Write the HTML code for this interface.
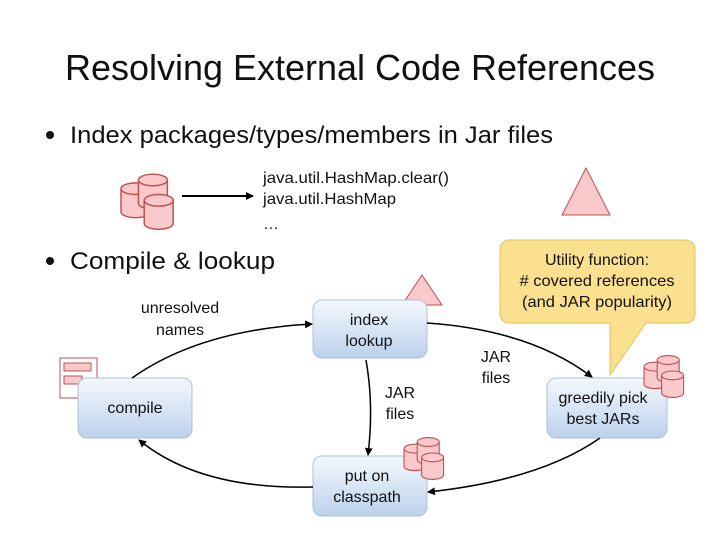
<!DOCTYPE html>
<html><head><meta charset="utf-8"><style>body{margin:0;background:#fff}svg{display:block}text{font-family:"Liberation Sans",sans-serif;fill:#111}</style></head><body>
<svg width="720" height="540" viewBox="0 0 720 540" xmlns="http://www.w3.org/2000/svg">
<defs>
<marker id="a" markerWidth="8" markerHeight="8" refX="7" refY="4" orient="auto" markerUnits="userSpaceOnUse"><path d="M0,0 L8,4 L0,8 Z" fill="#000"/></marker>
<linearGradient id="g" x1="0" y1="0" x2="0" y2="1"><stop offset="0" stop-color="#f4f8fd"/><stop offset="1" stop-color="#bcd1ec"/></linearGradient>
<g id="db">
<path d="M0,6 v16 a10,4 0 0 0 20,0 v-16" fill="#f9c9cc" stroke="#c0504d"/><ellipse cx="10" cy="6" rx="10" ry="4" fill="#f9c9cc" stroke="#c0504d"/>
<path d="M12,0 v16 a10,4 0 0 0 20,0 v-16" fill="#f9c9cc" stroke="#c0504d"/><ellipse cx="22" cy="0" rx="10" ry="4" fill="#f9c9cc" stroke="#c0504d"/>
<path d="M16,14 v16 a10,4 0 0 0 20,0 v-16" fill="#f9c9cc" stroke="#c0504d"/><ellipse cx="26" cy="14" rx="10" ry="4" fill="#f9c9cc" stroke="#c0504d"/>
</g>
</defs>
<text x="360" y="80" font-size="36" text-anchor="middle" textLength="590" lengthAdjust="spacingAndGlyphs">Resolving External Code References</text>
<circle cx="50" cy="135" r="4" fill="#111"/>
<text x="70" y="143" font-size="24" textLength="483" lengthAdjust="spacingAndGlyphs">Index packages/types/members in Jar files</text>
<use href="#db" transform="translate(121,180) scale(1.45)"/>
<line x1="182" y1="196" x2="253" y2="196" stroke="#000" stroke-width="2" marker-end="url(#a)"/>
<text x="263" y="183" font-size="16" textLength="186" lengthAdjust="spacingAndGlyphs">java.util.HashMap.clear()</text>
<text x="263" y="204" font-size="16" textLength="133" lengthAdjust="spacingAndGlyphs">java.util.HashMap</text>
<text x="263" y="229" font-size="16">…</text>
<polygon points="586,168 610,215 562,215" fill="#f9c9cc" stroke="#c0504d"/>
<circle cx="50" cy="261" r="4" fill="#111"/>
<text x="70" y="269" font-size="24" textLength="205" lengthAdjust="spacingAndGlyphs">Compile &amp; lookup</text>
<path d="M508,240 h178 a9,9 0 0 1 9,9 v65 a9,9 0 0 1 -9,9 h-40 l-36,52 l0,-52 h-101 a9,9 0 0 1 -9,-9 v-65 a9,9 0 0 1 9,-9 z" fill="#fbe08f" stroke="#e3c25a"/>
<text x="597" y="265" font-size="16" text-anchor="middle">Utility function:</text>
<text x="597" y="286" font-size="16" text-anchor="middle" textLength="155" lengthAdjust="spacingAndGlyphs"># covered references</text>
<text x="597" y="307" font-size="16" text-anchor="middle" textLength="150" lengthAdjust="spacingAndGlyphs">(and JAR popularity)</text>
<polygon points="422,275 442,305 402,305" fill="#f9c9cc" stroke="#c0504d"/>
<rect x="313" y="300" width="114" height="58" rx="9" fill="url(#g)" stroke="#a9bfdc"/>
<text x="369" y="325" font-size="16" text-anchor="middle">index</text>
<text x="369" y="346" font-size="16" text-anchor="middle">lookup</text>
<path d="M60,358 h37 v28 l-12,12 h-25 z" fill="#fff" stroke="#c0504d"/>
<rect x="64" y="363" width="27" height="8" fill="#f9c9cc" stroke="#c0504d"/>
<rect x="64" y="376" width="18" height="8" fill="#f9c9cc" stroke="#c0504d"/>
<rect x="78" y="378" width="114" height="60" rx="9" fill="url(#g)" stroke="#a9bfdc"/>
<text x="135" y="413" font-size="16" text-anchor="middle">compile</text>
<text x="180" y="313" font-size="16" text-anchor="middle">unresolved</text>
<text x="180" y="335" font-size="16" text-anchor="middle">names</text>
<path d="M132,378 Q200,330 312,324" fill="none" stroke="#000" stroke-width="1.5" marker-end="url(#a)"/>
<path d="M366,360 Q374,405 368,455" fill="none" stroke="#000" stroke-width="1.5" marker-end="url(#a)"/>
<text x="400" y="398" font-size="16" text-anchor="middle">JAR</text>
<text x="400" y="419" font-size="16" text-anchor="middle">files</text>
<rect x="313" y="456" width="114" height="60" rx="9" fill="url(#g)" stroke="#a9bfdc"/>
<text x="367" y="481" font-size="16" text-anchor="middle">put on</text>
<text x="367" y="502" font-size="16" text-anchor="middle">classpath</text>
<use href="#db" transform="translate(404,442) scale(1.1)"/>
<path d="M427,323 Q530,330 592,377" fill="none" stroke="#000" stroke-width="1.5" marker-end="url(#a)"/>
<text x="496" y="362" font-size="16" text-anchor="middle">JAR</text>
<text x="496" y="383" font-size="16" text-anchor="middle">files</text>
<rect x="547" y="378" width="120" height="60" rx="9" fill="url(#g)" stroke="#a9bfdc"/>
<text x="603" y="403" font-size="16" text-anchor="middle">greedily pick</text>
<text x="603" y="424" font-size="16" text-anchor="middle">best JARs</text>
<use href="#db" transform="translate(644,360) scale(1.1)"/>
<path d="M600,438 Q540,480 428,492" fill="none" stroke="#000" stroke-width="1.5" marker-end="url(#a)"/>
<path d="M313,487 Q200,490 139,440" fill="none" stroke="#000" stroke-width="1.5" marker-end="url(#a)"/>
</svg>
</body></html>
